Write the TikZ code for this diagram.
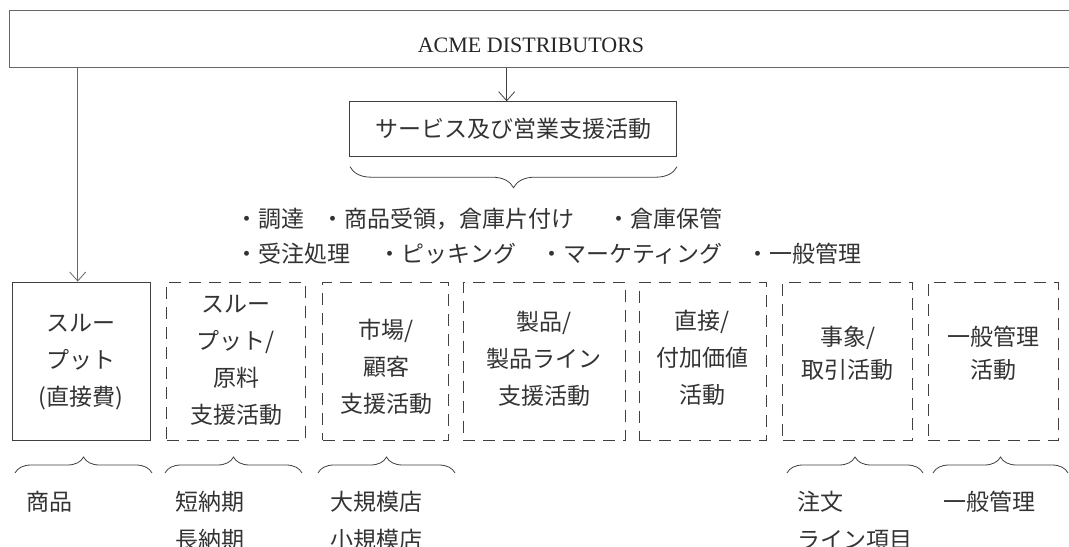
\documentclass[tikz,border=0pt]{standalone}
\usepackage{fontspec}
\newfontfamily\jpfont{Noto Sans CJK JP}
\newfontfamily\latinserif{Liberation Serif}
\usetikzlibrary{arrows.meta,decorations.pathreplacing}
\begin{document}
\begin{tikzpicture}[x=1bp,y=-1bp,
  boxframe/.style={draw=black!75, line width=0.8bp, inner sep=0pt},
  dashboxframe/.style={boxframe, dash pattern=on 12bp off 8bp},
  conn/.style={draw=black!75, line width=0.8bp, -{Straight Barb[length=9bp,width=16bp]}},
  bracepath/.style={draw=black!75, line width=0.8bp, decorate, decoration={brace, amplitude=#1}},
  jptext/.style={font=\jpfont\fontsize{23bp}{37bp}\selectfont, text=black!80, inner sep=0pt},
  boxtxt/.style={jptext, align=center},
  bulitem/.style={jptext, anchor=base west},
  leaftxt/.style={jptext, align=left, anchor=north west, font=\jpfont\fontsize{23bp}{38bp}\selectfont}
]
\useasboundingbox (0,0) rectangle (1069,547);

% top box
\node[boxframe, draw=black!60, minimum width=1071bp, minimum height=57bp] (top) at (544.8,39.2) {};
\node[font=\latinserif\fontsize{22bp}{26bp}\selectfont, text=black!85, inner sep=0pt] (acme) at (531,45) {ACME DISTRIBUTORS};

% service box
\node[boxframe, jptext, minimum width=327.4bp, minimum height=55bp] (svc) at (513,129.2) {サービス及び営業支援活動};

% top brace
\coordinate (tb1) at (677,166.7);
\coordinate (tb2) at (350,166.7);
\draw[bracepath=21bp] (tb1) -- (tb2);

% bullet items
\node[bulitem] (i1) at (235.5,227.7) {・調達};
\node[bulitem] (i2) at (321.5,227.7) {・商品受領，倉庫片付け};
\node[bulitem] (i3) at (607.5,227.7) {・倉庫保管};
\node[bulitem] (i4) at (235.5,262.7) {・受注処理};
\node[bulitem] (i5) at (378.5,262.7) {・ピッキング};
\node[bulitem] (i6) at (540.5,262.7) {・マーケティング};
\node[bulitem] (i7) at (746.5,262.7) {・一般管理};

% boxes
\node[boxframe, minimum width=137.3bp, minimum height=158bp] (b1) at (81.35,361) {};
\node[dashboxframe, minimum width=138.3bp, minimum height=158bp] (b2) at (235.85,361) {};
\node[dashboxframe, minimum width=125.6bp, minimum height=158bp] (b3) at (385.5,361) {};
\node[dashboxframe, minimum width=161.7bp, minimum height=158bp] (b4) at (544.15,361) {};
\node[dashboxframe, minimum width=126.7bp, minimum height=158bp] (b5) at (702.65,361) {};
\node[dashboxframe, minimum width=130bp, minimum height=158bp] (b6) at (847.7,361) {};
\node[dashboxframe, minimum width=130bp, minimum height=158bp] (b7) at (993.3,361) {};

\node[boxtxt] (t1) at (81,362.5) {スルー\\プット\\(直接費)};
\node[boxtxt] (t2) at (236,360.8) {スルー\\プット/\\原料\\支援活動};
\node[boxtxt] (t3) at (386,366.7) {市場/\\顧客\\支援活動};
\node[boxtxt] (t4) at (544,359.2) {製品/\\製品ライン\\支援活動};
\node[boxtxt] (t5) at (702,357.5) {直接/\\付加価値\\活動};
\node[boxtxt, font=\jpfont\fontsize{23bp}{33bp}\selectfont] (t6) at (847.7,353.3) {事象/\\取引活動};
\node[boxtxt, font=\jpfont\fontsize{23bp}{33bp}\selectfont] (t7) at (993.3,353.3) {一般管理\\活動};

% arrows
\coordinate (lx) at (77.7,0);
\coordinate (mx) at (506.7,0);
\draw[conn, draw=black!60] (top.south -| lx) -- (b1.north -| lx);
\draw[conn] (top.south -| mx) -- (svc.north -| mx);

% bottom braces
\coordinate (c1a) at (15,473);   \coordinate (c1b) at (152,473);
\coordinate (c2a) at (165,473);  \coordinate (c2b) at (302,473);
\coordinate (c3a) at (318,473);  \coordinate (c3b) at (455,473);
\coordinate (c6a) at (787,473);  \coordinate (c6b) at (923,473);
\coordinate (c7a) at (933,473);  \coordinate (c7b) at (1068,473);
\draw[bracepath=16bp] (c1a) -- (c1b);
\draw[bracepath=16bp] (c2a) -- (c2b);
\draw[bracepath=16bp] (c3a) -- (c3b);
\draw[bracepath=16bp] (c6a) -- (c6b);
\draw[bracepath=16bp] (c7a) -- (c7b);

% bottom labels
\node[leaftxt] (l1) at (26.5,491) {商品};
\node[leaftxt] (l2) at (175.5,491) {短納期\\長納期};
\node[leaftxt] (l3) at (330,491) {大規模店\\小規模店};
\node[leaftxt] (l6) at (797,491) {注文\\ライン項目};
\node[leaftxt] (l7) at (943.5,491) {一般管理};
\end{tikzpicture}
\end{document}
